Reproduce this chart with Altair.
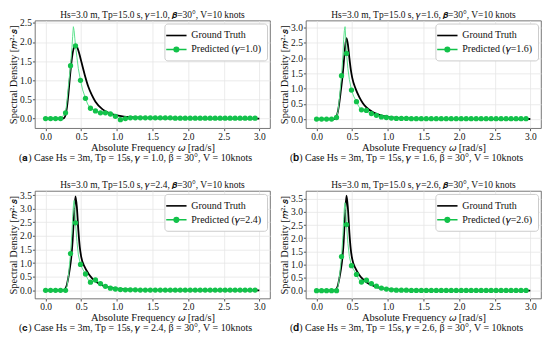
import altair as alt
import pandas as pd

# ---------------- data ----------------
gt_x = [0.0, 0.1, 0.2, 0.24, 0.26, 0.28, 0.30, 0.32, 0.34, 0.36, 0.38, 0.40, 0.42, 0.44, 0.46,
        0.48, 0.50, 0.55, 0.60, 0.65, 0.70, 0.80, 0.90, 1.00, 1.10, 1.20, 1.40, 1.60, 2.00, 2.50, 3.00]
gt_a = [0, 0, 0, 0.001, 0.015, 0.09, 0.30, 0.64, 1.05, 1.43, 1.71, 1.87, 1.92, 1.88, 1.78,
        1.65, 1.50, 1.14, 0.83, 0.61, 0.44, 0.24, 0.14, 0.084, 0.053, 0.035, 0.016, 0.008, 0.003, 0.001, 0]
gt_b = [0, 0, 0, 0.001, 0.01, 0.078, 0.255, 0.55, 0.92, 1.31, 1.80, 2.35, 2.65, 2.44, 2.01,
        1.63, 1.36, 0.98, 0.72, 0.52, 0.38, 0.21, 0.12, 0.073, 0.046, 0.03, 0.014, 0.007, 0.003, 0.001, 0]
gt_c = [0, 0, 0, 0.001, 0.008, 0.068, 0.22, 0.48, 0.80, 1.20, 1.84, 2.81, 3.45, 3.02, 2.20,
        1.59, 1.23, 0.85, 0.62, 0.45, 0.33, 0.18, 0.105, 0.063, 0.04, 0.026, 0.012, 0.006, 0.002, 0.001, 0]
gt_d = [0, 0, 0, 0.001, 0.008, 0.065, 0.21, 0.47, 0.78, 1.18, 1.85, 2.90, 3.62, 3.13, 2.23,
        1.57, 1.21, 0.83, 0.60, 0.44, 0.32, 0.18, 0.10, 0.061, 0.038, 0.025, 0.012, 0.006, 0.002, 0.001, 0]

mk_x = [0.00, 0.07, 0.14, 0.21, 0.28, 0.35, 0.42, 0.49, 0.56, 0.63, 0.70, 0.77, 0.84, 0.91, 0.98,
        1.05, 1.12, 1.19, 1.26, 1.33, 1.40, 1.47, 1.54, 1.61, 1.68, 1.75, 1.82, 1.89, 1.96, 2.03,
        2.10, 2.17, 2.24, 2.31, 2.38, 2.45, 2.52, 2.59, 2.66, 2.73, 2.80, 2.87, 2.94]
mk_a = [0, 0, 0, 0, 0.15, 1.38, 1.90, 1.00, 0.53, 0.27, 0.20, 0.15, 0.15, 0.12, 0.06,
        -0.03, 0.0, 0.02, 0.02, 0.02, 0.02, 0.02, 0.02, 0.02, 0.02, 0.02, 0.01, 0.01, 0.01, 0.01,
        0.01, 0.01, 0.01, 0.01, 0.01, 0.01, 0.01, 0.01, 0.01, 0.01, 0.01, 0.01, 0.01]
mk_b = [0, 0, 0, 0, 0.05, 1.42, 2.15, 0.95, 0.57, 0.30, 0.28, 0.18, 0.12, 0.07, 0.05,
        0.03, 0.02, 0.02, 0.02, 0.01, 0.01, 0.01, 0.01, 0.01, 0.01, 0.01, 0.01, 0.01, 0.01, 0.01,
        0.01, 0.01, 0.01, 0.01, 0.01, 0.01, 0.01, 0.01, 0.01, 0.01, 0.01, 0.01, 0.01]
mk_c = [0, 0, 0, 0, 0.0, 1.35, 2.48, 0.95, 0.60, 0.30, 0.38, 0.25, 0.15, 0.08, 0.05,
        0.03, 0.02, 0.02, 0.02, 0.01, 0.01, 0.01, 0.01, 0.01, 0.01, 0.01, 0.01, 0.01, 0.01, 0.01,
        0.01, 0.01, 0.01, 0.01, 0.01, 0.01, 0.01, 0.01, 0.01, 0.01, 0.01, 0.01, 0.01]
mk_d = [0, 0, 0, 0, 0.0, 1.30, 2.52, 0.95, 0.62, 0.33, 0.40, 0.27, 0.17, 0.10, 0.06,
        0.03, 0.02, 0.02, 0.02, 0.01, 0.01, 0.01, 0.01, 0.01, 0.01, 0.01, 0.01, 0.01, 0.01, 0.01,
        0.01, 0.01, 0.01, 0.01, 0.01, 0.01, 0.01, 0.01, 0.01, 0.01, 0.01, 0.01, 0.01]

# extra (un-marked) points of the fine predicted line
ex_x = [0.30, 0.32, 0.37, 0.38, 0.39, 0.40, 0.41, 0.44, 0.46, 0.52, 0.59]
ex_a = [0.45, 0.85, 1.85, 2.15, 2.40, 2.30, 2.10, 1.60, 1.30, 0.75, 0.38]
ex_b = [0.25, 0.65, 2.10, 2.60, 2.90, 3.03, 2.60, 1.65, 1.30, 0.75, 0.42]
ex_c = [0.15, 0.50, 2.10, 2.70, 3.10, 3.30, 3.00, 1.80, 1.30, 0.78, 0.42]
ex_d = [0.15, 0.50, 2.10, 2.70, 3.15, 3.35, 3.05, 1.80, 1.30, 0.80, 0.44]

gammas = ["1.0", "1.6", "2.4", "2.6"]
bold_letters = ["𝐚", "𝐛", "𝐜", "𝐝"]
y_domains = [[-0.25, 2.56], [-0.3, 3.23], [-0.3, 3.65], [-0.3, 3.8]]
y_tickcount = [6, 7, 8, 8]

GT_COLOR = "#000000"
MK_COLOR = "#12c24a"
LN_COLOR = "#5ee28f"
FONT = "Liberation Serif"
W, H = 236, 108


def panel(i, gt_y, mk_y, ex_y):
    g = gammas[i]
    gt_lab = "Ground Truth"
    pr_lab = f"Predicted (𝛾={g})"
    gt_df = pd.DataFrame({"x": gt_x, "y": gt_y})
    mk_df = pd.DataFrame({"x": mk_x, "y": mk_y})
    ln_df = pd.concat([mk_df, pd.DataFrame({"x": ex_x, "y": ex_y})]).sort_values("x")

    xs = alt.X("x:Q", scale=alt.Scale(domain=[-0.15, 3.15], nice=False, zero=False),
               axis=alt.Axis(tickCount=7, format=".1f", labelOverlap=False, labelBound=False,
                             labelSeparation=0, title="Absolute Frequency 𝜔 [rad/s]"))
    ys = alt.Y("y:Q", scale=alt.Scale(domain=y_domains[i], nice=False, zero=False),
               axis=alt.Axis(tickCount=y_tickcount[i], format=".1f", labelOverlap=False,
                             labelBound=False, labelFlush=False,
                             labelSeparation=0, title="Spectral Density [𝑚²·𝑠]"))

    gt = alt.Chart(gt_df).mark_line(color=GT_COLOR, strokeWidth=1.8, interpolate="monotone").encode(x=xs, y=ys)
    ln = alt.Chart(ln_df).mark_line(color=LN_COLOR, strokeWidth=1.0).encode(x="x:Q", y="y:Q")
    mk = alt.Chart(mk_df).mark_circle(color=MK_COLOR, size=28, opacity=1).encode(x="x:Q", y="y:Q")

    leg_df = pd.DataFrame({"s": [gt_lab, pr_lab]})
    dom = [gt_lab, pr_lab]
    leg = alt.Legend(title=None, orient="top-right", offset=3, fillColor="white",
                     strokeColor="#cccccc", cornerRadius=3, padding=5,
                     labelFont=FONT, labelFontSize=10, labelColor="#111",
                     symbolSize=144, symbolStrokeWidth=1.6,
                     rowPadding=2, labelOffset=8)
    lg = alt.Chart(leg_df).mark_point(clip=True, opacity=1).encode(
        x=alt.value(-60), y=alt.value(-60),
        stroke=alt.Stroke("s:N", scale=alt.Scale(domain=dom, range=[GT_COLOR, MK_COLOR]), legend=leg),
        fill=alt.Fill("s:N", scale=alt.Scale(domain=dom, range=[GT_COLOR, MK_COLOR]), legend=leg),
        shape=alt.Shape("s:N", scale=alt.Scale(domain=dom, range=[
            "M-1.7,0L1.7,0",
            "M-1.7,0L1.7,0M-0.38,0A0.38,0.38,0,1,1,0.38,0A0.38,0.38,0,1,1,-0.38,0Z"]), legend=leg),
    )

    cap = f"({bold_letters[i]}) Case Hs = 3m, Tp = 15s, 𝛾 = {g}, β = 30°, V = 10knots"
    ttl = f"Hs=3.0 m, Tp=15.0 s, 𝛾={g}, 𝜷=30°, V=10 knots"
    txt_df = pd.DataFrame({"c": [cap], "t": [ttl]})
    ct = alt.Chart(txt_df).mark_text(font=FONT, fontSize=10, align="center", baseline="middle",
                                     color="#111").encode(
        text="c:N", x=alt.value(W / 2 - 17), y=alt.value(H + 30))
    tt = alt.Chart(txt_df).mark_text(font=FONT, fontSize=9.5, align="center", baseline="middle",
                                     color="#111").encode(
        text="t:N", x=alt.value(W / 2), y=alt.value(-6))
    return alt.layer(gt, ln, mk, lg, ct, tt).resolve_scale(
        stroke="independent", fill="independent", shape="independent").properties(
        width=W, height=H)


pa = panel(0, gt_a, mk_a, ex_a)
pb = panel(1, gt_b, mk_b, ex_b)
pc = panel(2, gt_c, mk_c, ex_c)
pd_ = panel(3, gt_d, mk_d, ex_d)

res = dict(x="independent", y="independent", stroke="independent", fill="independent", shape="independent")
chart = alt.vconcat(
    alt.hconcat(pa, pb, spacing=8).resolve_scale(**res),
    alt.hconcat(pc, pd_, spacing=8).resolve_scale(**res),
    spacing=15,
).resolve_scale(**res).properties(padding=0).configure_view(
    stroke="#555555", strokeWidth=0.8
).configure_axis(
    labelFont=FONT, titleFont=FONT, labelFontSize=9.5, titleFontSize=10.5, titleFontWeight="normal",
    labelColor="#111", titleColor="#111", domain=False, tickColor="#555", tickSize=2.5,
    gridColor="#e6e6e6", gridWidth=0.8, labelPadding=1, titlePadding=1
)

chart.save("out.html", embed_options={"renderer": "svg", "actions": False})
